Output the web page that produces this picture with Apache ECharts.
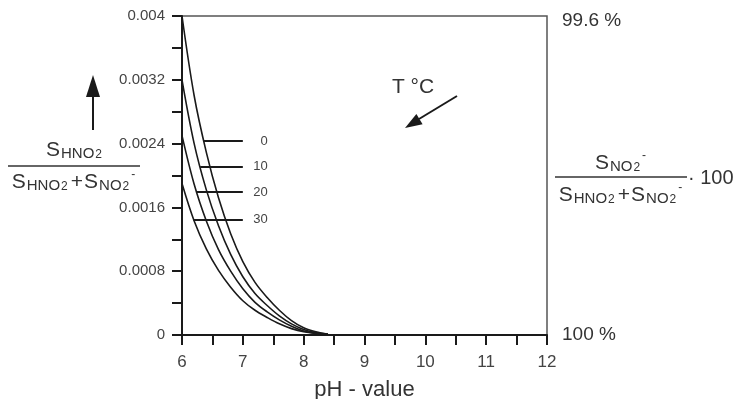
<!DOCTYPE html>
<html>
<head>
<meta charset="utf-8">
<script src="https://cdn.jsdelivr.net/npm/echarts@6/dist/echarts.min.js"></script>
<style>
  html, body { margin: 0; background: #fff; }
  #chart { width: 736px; height: 399px; }
</style>
</head>
<body>
<div id="chart"></div>
<script>
  // pH grid and HNO2 fraction, one list per temperature
  const phValues = [6.0, 6.2, 6.4, 6.6, 6.8, 7.0, 7.2, 7.4, 7.6, 7.8, 8.0, 8.2, 8.4];
  const fracT0 = [0.0040, 0.0030, 0.00229, 0.00172, 0.00127, 0.00092, 0.00066, 0.00047, 0.00031, 0.00018, 0.00009, 0.00004, 0.00001];
  const fracT10 = [0.0032, 0.0024, 0.00182, 0.00137, 0.00101, 0.00073, 0.00052, 0.00037, 0.00024, 0.00014, 0.00007, 0.00003, 0.00001];
  const fracT20 = [0.0025, 0.00189, 0.00143, 0.00107, 0.0008, 0.00058, 0.00041, 0.00029, 0.00019, 0.00011, 0.00005, 0.00002, 0.00001];
  const fracT30 = [0.0019, 0.00143, 0.00108, 0.00081, 0.0006, 0.00043, 0.00031, 0.00022, 0.00014, 0.00008, 0.00004, 0.00002, 0.00001];

  const tempLabels = ["0", "10", "20", "30"];
  const tempLineLevels = [0.00243, 0.00211, 0.00179, 0.00145];
  const tempLineStarts = [6.36, 6.30, 6.24, 6.19];
  const tempLineEnd = 7.0;

  const yTickLabels = ["0", "0.0008", "0.0016", "0.0024", "0.0032", "0.004"];
  const rightLabels = ["100 %", "99.6 %"];

  const FONT = "Liberation Sans, Arial, sans-serif";
  const chart = echarts.init(document.getElementById("chart"));

  function pairs(values) {
    return phValues.map((ph, i) => [ph, values[i]]);
  }

  const curves = [fracT0, fracT10, fracT20, fracT30];

  const series = curves.map((values, i) => ({
    name: tempLabels[i],
    type: "line",
    data: pairs(values),
    smooth: 0.35,
    symbol: "none",
    lineStyle: { color: "#1a1a1a", width: 1.6 },
    markLine: {
      silent: true,
      symbol: "none",
      label: { show: false },
      lineStyle: { color: "#1a1a1a", width: 2.2, type: "solid" },
      data: [[
        { coord: [tempLineStarts[i], tempLineLevels[i]] },
        { coord: [tempLineEnd, tempLineLevels[i]] }
      ]]
    }
  }));

  const rich = {
    S: { fontSize: 21, lineHeight: 24, verticalAlign: "bottom", fill: "#333", fontFamily: FONT },
    plus: { fontSize: 21, lineHeight: 24, verticalAlign: "bottom", fill: "#333", fontFamily: FONT, padding: [0, 1, 0, 1] },
    sub: { fontSize: 15, lineHeight: 17, verticalAlign: "bottom", fill: "#333", fontFamily: FONT, padding: [0, 0, 0, 1] },
    sub2: { fontSize: 12, lineHeight: 6, verticalAlign: "bottom", fill: "#333", fontFamily: FONT, padding: [0, 2, 0, 1] },
    sup: { fontSize: 12, lineHeight: 10, verticalAlign: "top", fill: "#333", fontFamily: FONT, padding: [0, 1, 0, 0] }
  };

  function fracText(text, x, y) {
    return {
      type: "text",
      style: { text: text, x: x, y: y, align: "center", verticalAlign: "middle", rich: rich }
    };
  }

  const sumText = "{S|S}{sub|HNO}{sub2|2}{plus|+}{S|S}{sub|NO}{sub2|2}{sup|-}";

  chart.setOption({
    animation: false,
    grid: {
      left: 182, right: 189, top: 16, bottom: 64,
      containLabel: false, outerBoundsMode: "none",
      show: true, borderColor: "#555", borderWidth: 1.5
    },
    xAxis: {
      type: "value",
      min: 6,
      max: 12,
      interval: 0.5,
      name: "pH - value",
      nameLocation: "middle",
      nameGap: 44,
      nameTextStyle: { fontSize: 22, color: "#333", fontFamily: FONT },
      axisLine: { show: true, lineStyle: { color: "#1a1a1a", width: 2 } },
      axisTick: { show: true, length: 10, lineStyle: { color: "#1a1a1a", width: 2 } },
      axisLabel: {
        fontSize: 17,
        color: "#444",
        fontFamily: FONT,
        margin: 19,
        formatter: (v) => (Math.abs(v - Math.round(v)) < 1e-6 ? String(Math.round(v)) : "")
      },
      splitLine: { show: false }
    },
    yAxis: [
      {
        type: "value",
        min: 0,
        max: 0.004,
        interval: 0.0004,
        axisLine: { show: true, lineStyle: { color: "#1a1a1a", width: 2 } },
        axisTick: { show: true, length: 10, lineStyle: { color: "#1a1a1a", width: 2 } },
        axisLabel: {
          fontSize: 15,
          color: "#444",
          fontFamily: FONT,
          margin: 17,
          formatter: (v) => {
            const k = Math.round(v / 0.0004);
            return k % 2 === 0 ? yTickLabels[k / 2] : "";
          }
        },
        splitLine: { show: false }
      },
      {
        type: "value",
        position: "right",
        min: 0,
        max: 0.004,
        interval: 0.004,
        axisLine: { show: false },
        axisTick: { show: false },
        axisLabel: {
          fontSize: 19,
          color: "#333",
          fontFamily: FONT,
          margin: 15,
          formatter: (v) => (v < 0.002 ? rightLabels[0] : "{top|" + rightLabels[1] + "}"),
          rich: { top: { fontSize: 19, color: "#333", fontFamily: FONT, padding: [10, 0, 0, 0] } }
        },
        splitLine: { show: false }
      }
    ],
    series: series
  });

  // temperature labels next to the marker lines
  const tempTexts = tempLabels.map((label, i) => {
    const p = chart.convertToPixel({ gridIndex: 0 }, [tempLineEnd, tempLineLevels[i]]);
    return {
      type: "text",
      style: { text: label, x: p[0] + 25, y: p[1], align: "right", verticalAlign: "middle",
        fontSize: 13, fill: "#444", fontFamily: FONT }
    };
  });

  chart.setOption({
    graphic: [
      // left axis title
      { type: "line", shape: { x1: 93, y1: 130, x2: 93, y2: 95 }, style: { stroke: "#1a1a1a", lineWidth: 2 } },
      { type: "polygon", shape: { points: [[86, 97], [100, 97], [93, 75]] }, style: { fill: "#1a1a1a" } },
      fracText("{S|S}{sub|HNO}{sub2|2}", 75, 149),
      { type: "line", shape: { x1: 8, y1: 166, x2: 140, y2: 166 }, style: { stroke: "#333", lineWidth: 1.5 } },
      fracText(sumText, 74, 181),
      // right axis title
      fracText("{S|S}{sub|NO}{sub2|2}{sup|-}", 621, 162),
      { type: "line", shape: { x1: 555, y1: 177, x2: 687, y2: 177 }, style: { stroke: "#333", lineWidth: 1.5 } },
      fracText(sumText, 621, 194),
      { type: "text", style: { text: "· 100", x: 688, y: 178, align: "left", verticalAlign: "middle",
        fontSize: 20, fill: "#333", fontFamily: FONT } },
      // temperature direction
      { type: "text", style: { text: "T °C", x: 413, y: 87, align: "center", verticalAlign: "middle",
        fontSize: 21, fill: "#333", fontFamily: FONT } },
      { type: "line", shape: { x1: 457, y1: 96, x2: 419, y2: 119 }, style: { stroke: "#1a1a1a", lineWidth: 2 } },
      { type: "polygon", shape: { points: [[405, 128], [422.6, 124.2], [416.4, 114.0]] }, style: { fill: "#1a1a1a" } }
    ].concat(tempTexts)
  });
</script>
</body>
</html>
